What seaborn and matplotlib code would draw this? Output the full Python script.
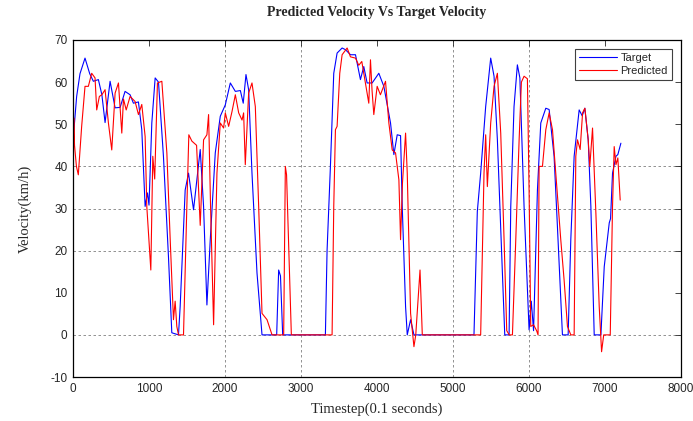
import matplotlib
matplotlib.use("Agg")
import matplotlib.pyplot as plt
import seaborn as sns
import pandas as pd

# ---- data ----
target_t = [0, 48, 92, 158, 220, 268, 334, 380, 422, 488, 554, 620, 685, 751, 795, 861, 905, 949, 980, 1000,
            1037, 1081, 1125, 1190, 1256, 1300, 1388, 1410, 1476, 1520, 1586, 1674, 1718, 1762, 1806, 1872,
            1938, 2004, 2070, 2136, 2202, 2240, 2276, 2311, 2355, 2421, 2487, 2575, 2680, 2706, 2730, 2759,
            3321, 3343, 3387, 3431, 3475, 3541, 3585, 3651, 3717, 3782, 3826, 3870, 3936, 4024, 4090, 4178,
            4222, 4266, 4310, 4332, 4376, 4398, 4442, 4486, 5276, 5320, 5364, 5430, 5496, 5540, 5584, 5650,
            5681, 5738, 5760, 5803, 5847, 5880, 5935, 6001, 6030, 6060, 6111, 6155, 6221, 6265, 6330, 6374,
            6440, 6515, 6550, 6594, 6660, 6700, 6735, 6779, 6814, 6858, 6946, 6990, 7056, 7073, 7099, 7144,
            7169, 7209]
target_v = [46, 56.6, 62, 65.7, 62, 60.2, 60.6, 57, 50.4, 60.2, 53.9, 54, 57.8, 57, 55, 55.3, 48.7, 30.5, 33.7, 30.8,
            50.3, 61, 60, 42.4, 18.6, 0.5, 0, 6.7, 34.4, 38.4, 29.7, 44, 30.5, 7.1, 22.6, 43.2,
            51.9, 54.6, 59.8, 57.8, 58, 55, 61.8, 58.2, 38.4, 14.7, 0, 0, 0, 15.4, 14, 0,
            0, 20, 40, 62.1, 66.9, 68.1, 67.7, 66.5, 66.5, 60.6, 63.7, 59.8, 59.8, 62.1, 59, 50.3,
            42.8, 47.5, 47.3, 30.5, 6.7, 0, 3.6, 0, 0, 29.3, 38.4, 54.2, 65.7, 61.4, 46.3, 14.7,
            0, 0, 30.5, 54.2, 64.1, 61, 30.5, 1.2, 8, 1, 34.4, 50.3, 53.8, 53.5, 42.4, 25.7,
            0, 0, 22.6, 42.4, 53.4, 52, 53.8, 46.3, 30.5, 0, 0, 16.2, 26.6, 27.6, 38.4, 42.4,
            42.8, 45.5]

pred_t = [0, 10, 20, 45, 70, 114, 158, 202, 246, 290, 312, 347, 380, 422, 466, 510, 554, 598, 642, 664,
          700, 751, 817, 861, 905, 949, 971, 1024, 1050, 1075, 1111, 1169, 1235, 1279, 1322, 1344, 1366, 1388,
          1454, 1498, 1524, 1564, 1626, 1674, 1718, 1762, 1784, 1810, 1850, 1894, 1938, 1982, 2004, 2048,
          2092, 2136, 2180, 2224, 2245, 2267, 2311, 2355, 2399, 2443, 2487, 2553, 2619, 2772, 2794, 2810,
          2873, 3409, 3431, 3453, 3475, 3510, 3541, 3607, 3651, 3717, 3760, 3800, 3848, 3892, 3914, 3935,
          3958, 4002, 4045, 4112, 4156, 4200, 4244, 4288, 4310, 4335, 4376, 4398, 4442, 4486, 4510, 4566,
          4596, 5364, 5408, 5430, 5452, 5496, 5540, 5584, 5628, 5672, 5707, 5740, 5782, 5826, 5870, 5900,
          5935, 5979, 6001, 6023, 6060, 6100, 6119, 6133, 6177, 6221, 6265, 6309, 6352, 6418, 6462, 6506,
          6550, 6594, 6616, 6638, 6673, 6705, 6735, 6779, 6800, 6836, 6880, 6924, 6955, 6983, 7069, 7099,
          7121, 7144, 7169, 7200]
pred_v = [29, 51.5, 45, 40, 38, 49.5, 59, 59, 62.1, 61, 53.4, 56.6, 57, 58.2, 50.3, 43.9, 57.4, 59.8, 47.9, 56,
          53.4, 56.6, 55.4, 52.3, 54.7, 47.1, 30.5, 15.4, 42.4, 37, 59.8, 60.2, 43.2, 22.6, 3.6, 8, 2, 0,
          0, 30.5, 47.5, 46, 45, 26, 46.3, 47.5, 52.3, 30.5, 2.4, 38.4, 50.3, 49.1, 52.7, 49.5,
          53, 57, 52.7, 51, 52.7, 40.4, 57.4, 59.8, 54.2, 30.5, 5.1, 3.6, 0, 0, 40, 38,
          0, 0, 30.5, 48.7, 49.5, 62.1, 66.5, 68.1, 66, 65.7, 64, 64.9, 59.8, 55, 65.3, 58,
          52.3, 59, 57, 60.2, 50.3, 43.9, 43.2, 36.8, 22.6, 36, 47.9, 38.4, 5.1, -2.8, 0, 15.4,
          0, 0, 38.4, 47.5, 35.2, 50.3, 59, 62.1, 47.9, 22.6, 1, 0, 0, 22.6, 46.3, 60,
          61.4, 60.8, 34.4, 2, 2.4, 1, 0, 40, 40, 48.7, 52.7, 48.7, 38.4, 22.6, 13, 2,
          0, 0, 42.4, 46.3, 44, 52.7, 53.8, 46.3, 40, 49.1, 28.9, 6.7, -4, 0, 0, 30.5,
          44.7, 40.4, 42, 32]

series_names = ["Target", "Predicted"]
series_colors = ["#0000ff", "#ff0000"]
x_ticks = list(range(0, 8001, 1000))
y_ticks = list(range(-10, 71, 10))
grid_x = [2000, 3000, 5000, 6000]
grid_y = [0, 20, 30, 40]

title = "Predicted Velocity Vs Target Velocity"
xlabel = "Timestep(0.1 seconds)"
ylabel = "Velocity(km/h)"

df = pd.concat([
    pd.DataFrame({"t": target_t, "v": target_v, "series": series_names[0]}),
    pd.DataFrame({"t": pred_t, "v": pred_v, "series": series_names[1]}),
], ignore_index=True)

sns.set_style("white")
plt.rcParams["font.family"] = ["Liberation Sans", "DejaVu Sans"]
plt.rcParams["axes.unicode_minus"] = False

fig = plt.figure(figsize=(6.93, 4.21), dpi=100)
ax = fig.add_axes([73 / 693, 44 / 421, 608 / 693, 337 / 421])

for gx in grid_x:
    ax.axvline(gx, color="#808080", lw=0.6, ls=(0, (3, 3)), zorder=0)
for gy in grid_y:
    ax.axhline(gy, color="#808080", lw=0.6, ls=(0, (3, 3)), zorder=0)

sns.lineplot(data=df, x="t", y="v", hue="series", hue_order=series_names,
             palette=dict(zip(series_names, series_colors)), estimator=None, sort=False,
             lw=0.8, ax=ax)

ax.set_xlim(0, 8000)
ax.set_ylim(-10, 70)
ax.set_xticks(x_ticks)
ax.set_yticks(y_ticks)
ax.tick_params(direction="in", top=True, right=True, labelsize=8.5, length=4, width=0.6, pad=4)
for s in ax.spines.values():
    s.set_color("black")
    s.set_linewidth(0.9)

ax.set_title(title, fontfamily="Liberation Serif", fontweight="bold", fontsize=10, pad=17)
ax.set_xlabel(xlabel, fontfamily="Liberation Serif", fontsize=10.5, labelpad=6)
ax.set_ylabel(ylabel, fontfamily="Liberation Serif", fontsize=10.5, labelpad=13)

leg = ax.legend(loc="upper right", fontsize=8, frameon=True, fancybox=False,
                edgecolor="#404040", framealpha=1, borderaxespad=0.8,
                handlelength=3.4, handletextpad=0.3, labelspacing=0.2, borderpad=0.4)
leg.get_frame().set_linewidth(0.8)
leg.set_title(None)

fig.savefig("out.png", dpi=100)
